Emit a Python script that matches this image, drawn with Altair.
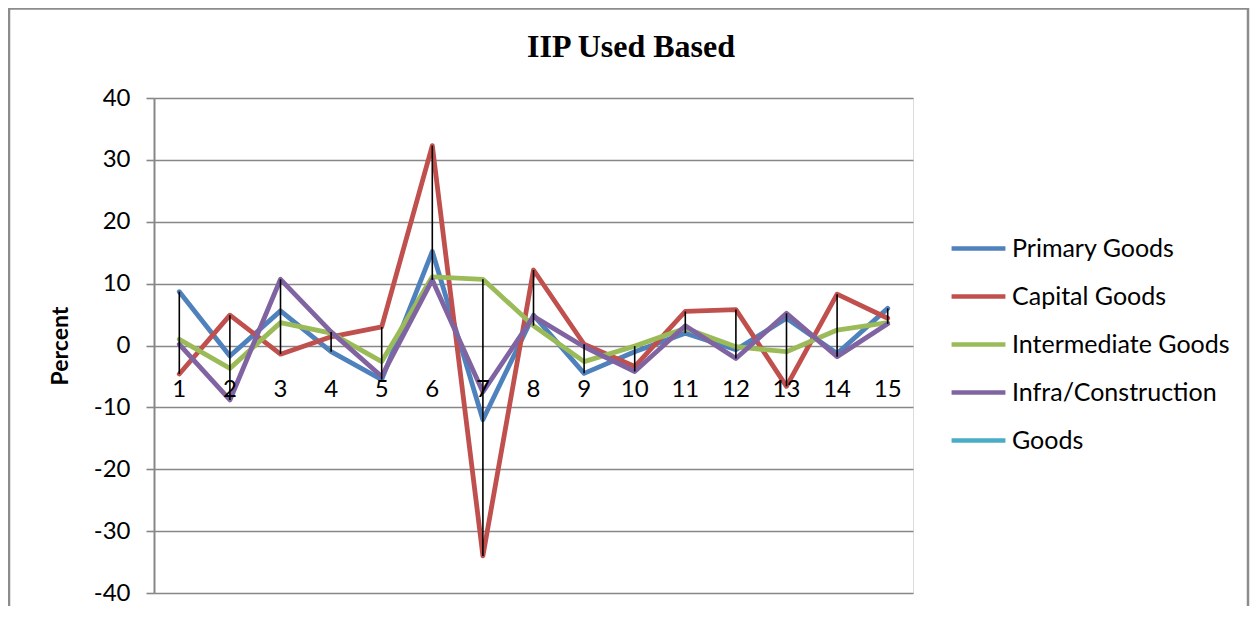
import altair as alt
import pandas as pd

categories = [str(i) for i in range(1, 16)]
series_names = ["Primary Goods", "Capital Goods", "Intermediate Goods",
                "Infra/Construction", "Goods"]
series_colors = ["#4F81BD", "#C0504D", "#9BBB59", "#8064A2", "#4BACC6"]

primary = [8.7, -1.7, 5.6, -1.0, -5.5, 15.2, -12.0, 4.9, -4.5, -1.0, 2.0, -0.7, 4.4, -1.3, 6.0]
capital = [-4.6, 4.9, -1.4, 1.4, 3.0, 32.3, -34.0, 12.2, 0.2, -3.4, 5.5, 5.8, -6.6, 8.3, 4.4]
intermediate = [1.0, -3.7, 3.7, 2.0, -2.6, 11.1, 10.7, 3.2, -2.6, -0.1, 2.8, -0.2, -1.0, 2.5, 3.7]
infra = [0.2, -8.8, 10.7, 2.2, -5.0, 10.6, -7.5, 4.7, -0.2, -4.2, 3.2, -2.1, 5.2, -1.8, 3.5]
goods = []  # listed in the legend, no visible values

chart_title = "IIP Used Based"
y_title = "Percent"

series_values = [primary, capital, intermediate, infra]

rows = []
for name, vals in zip(series_names[:4], series_values):
    for c, v in zip(categories, vals):
        rows.append({"Category": c, "Series": name, "Value": v})
df = pd.DataFrame(rows)

W, H = 759, 495
FONT = "Lato"
GRID = "#878787"

x_enc = alt.X("Category:O", sort=categories,
              scale=alt.Scale(type="point", padding=0.5), axis=None)
y_scale = alt.Scale(domain=[-40, 40], nice=False, zero=False)

y_axis = alt.Axis(
    values=list(range(-40, 41, 10)), grid=True, gridColor=GRID, gridWidth=1.6,
    domainColor=GRID, domainWidth=2, tickColor=GRID, tickWidth=1.6, tickSize=8,
    labelFont=FONT, labelFontSize=24, labelColor="black", labelPadding=16,
    labelExpr="'' + datum.value",
    title=y_title, titleFont=FONT, titleFontSize=23, titleFontWeight="bold",
    titleColor="black", titleX=-87, titleY=247.5, titleAngle=270,
    titleBaseline="alphabetic", titleAlign="center",
)

color_enc = alt.Color(
    "Series:N",
    scale=alt.Scale(domain=series_names, range=series_colors),
    legend=alt.Legend(
        title=None, orient="none", legendX=795, legendY=121,
        symbolType="stroke", symbolSize=2900, symbolStrokeWidth=4.5,
        labelFont=FONT, labelFontSize=25, labelColor="black", labelLimit=0,
        labelOffset=4, rowPadding=5, padding=0,
    ),
)

layers = []
for i, name in enumerate(series_names[:4]):
    enc_y = alt.Y("Value:Q", scale=y_scale, axis=y_axis if i == 0 else alt.Axis(title=y_title))
    layers.append(
        alt.Chart(df).transform_filter(alt.datum.Series == name)
        .mark_line(strokeWidth=4.8, strokeCap="round", strokeJoin="round")
        .encode(x=x_enc, y=enc_y, color=color_enc)
    )

hilo = alt.Chart(df).mark_rule(color="black", strokeWidth=1.6).encode(
    x=x_enc,
    y=alt.Y("min(Value):Q", scale=y_scale, title=y_title),
    y2="max(Value):Q",
)

labels = alt.Chart(pd.DataFrame({"Category": categories})).mark_text(
    font=FONT, fontSize=24, baseline="alphabetic", dy=51, color="black"
).encode(x=x_enc, y=alt.Y(datum=0, type="quantitative", scale=y_scale, title=y_title),
         text="Category:N")

title_mark = alt.Chart(alt.Data(values=[{"t": chart_title}])).mark_text(
    font="Liberation Serif", fontSize=32, fontWeight="bold", color="black",
    baseline="alphabetic", align="center", clip=False
).encode(x=alt.value(477), y=alt.value(-41), text="t:N")

frame = alt.Chart(alt.Data(values=[{}])).mark_rect(
    fillOpacity=0, stroke="#8C8C8C", strokeWidth=2.5, clip=False
).encode(x=alt.value(-145), x2=alt.value(1094), y=alt.value(-89.5), y2=alt.value(700))

chart = alt.layer(frame, *layers, hilo, labels, title_mark).properties(
    width=W, height=H,
    autosize="none",
    padding={"left": 146, "top": 90, "right": 337, "bottom": 13},
).configure_view(stroke=None).configure(background="white")

chart.save("out.html", embed_options={"renderer": "svg", "actions": False})
